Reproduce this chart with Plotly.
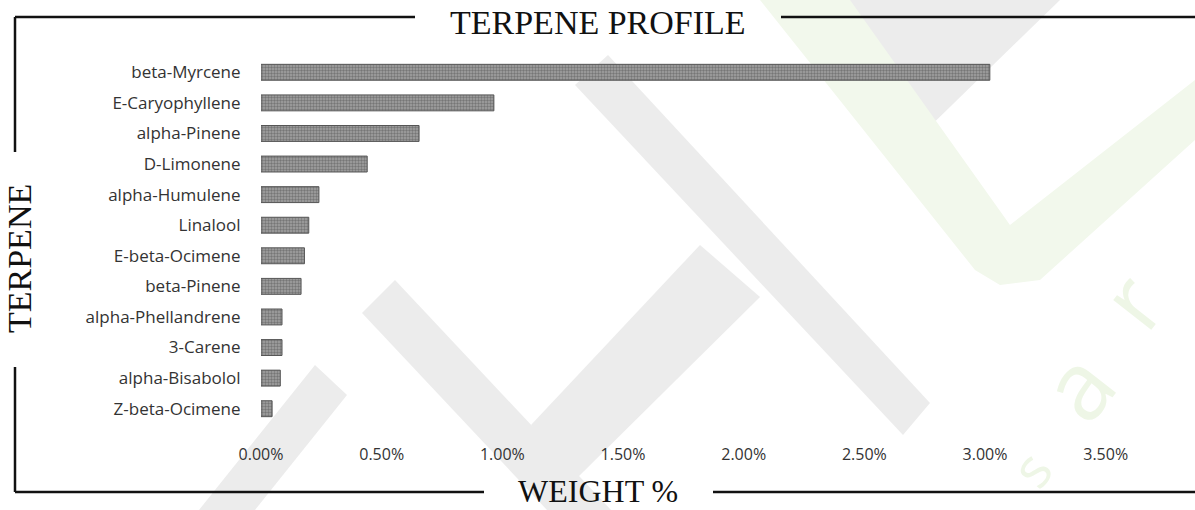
import plotly.graph_objects as go

terpenes = ["beta-Myrcene", "E-Caryophyllene", "alpha-Pinene", "D-Limonene",
            "alpha-Humulene", "Linalool", "E-beta-Ocimene", "beta-Pinene",
            "alpha-Phellandrene", "3-Carene", "alpha-Bisabolol", "Z-beta-Ocimene"]
weight_pct = [3.02, 0.965, 0.655, 0.44, 0.24, 0.198, 0.18, 0.166, 0.087, 0.087, 0.08, 0.046]
x_ticks = [0, 0.5, 1.0, 1.5, 2.0, 2.5, 3.0, 3.5]

W, H = 1195, 510
L, R, T, B = 261, 1166, 57, 424

def px(x):
    return (x - L) / (R - L)

def py(y):
    return (B - y) / (B - T)

def path(points):
    return "M " + " L ".join(f"{px(a):.5f},{py(b):.5f}" for a, b in points) + " Z"

fig = go.Figure()
fig.add_trace(go.Bar(
    x=weight_pct, y=terpenes, orientation="h",
    marker=dict(color="#7a7a7a",
                line=dict(color="#555555", width=1),
                pattern=dict(shape=".", fgcolor="#4a4a4a", bgcolor="#a2a2a2",
                             size=3, solidity=0.5)),
    width=0.52, showlegend=False,
))

shapes = []
# watermark (light gray)
gray = "#ececec"
for poly in [
    [(315, 365), (347, 395), (255, 510), (199, 510)],
    [(362, 313), (395, 280), (611, 510), (547, 510)],
    [(531, 425), (700, 245), (760, 297), (575, 480)],
    [(575, 85), (608, 55), (930, 403), (903, 435)],
    [(873, 120), (913, 143), (1060, 0), (800, 0)],
]:
    shapes.append(dict(type="path", xref="paper", yref="paper", path=path(poly),
                       fillcolor=gray, line=dict(width=0), layer="below"))
# watermark (light green)
green = "#f2f8ec"
shapes.append(dict(type="path", xref="paper", yref="paper",
                   path=path([(760, 0), (850, 0), (1010, 225), (1195, 80), (1195, 140),
                              (1040, 280), (1000, 285), (975, 270)]),
                   fillcolor=green, line=dict(width=0), layer="below"))

# frame lines
frame = [((15, 17), (415, 17)), ((781, 17), (1195, 17)),
         ((15, 17), (15, 152)), ((15, 367), (15, 492)),
         ((15, 492), (484, 492)), ((713, 492), (1195, 492))]
for (a, b), (c, d) in frame:
    shapes.append(dict(type="line", xref="paper", yref="paper",
                       x0=px(a), y0=py(b), x1=px(c), y1=py(d),
                       line=dict(color="#111111", width=2.5)))

serif = "Liberation Serif"
annotations = [
    dict(text="TERPENE PROFILE", x=px(598), y=py(22), xref="paper", yref="paper",
         showarrow=False, font=dict(family=serif, size=34, color="#111"),
         xanchor="center", yanchor="middle"),
    dict(text="WEIGHT %", x=px(598), y=py(491), xref="paper", yref="paper",
         showarrow=False, font=dict(family=serif, size=32, color="#111"),
         xanchor="center", yanchor="middle"),
    dict(text="TERPENE", x=px(19), y=py(258), xref="paper", yref="paper",
         showarrow=False, textangle=-90, font=dict(family=serif, size=34, color="#111"),
         xanchor="center", yanchor="middle"),
]
for ch, (cx, cy), sz in zip(["s", "a", "r"], [(1030, 468), (1075, 385), (1130, 300)],
                            [55, 95, 90]):
    annotations.append(dict(text=ch, x=px(cx), y=py(cy), xref="paper", yref="paper",
                            showarrow=False, textangle=-52,
                            font=dict(family="Open Sans", size=sz, color="#eef6e6"),
                            xanchor="center", yanchor="middle"))

fig.update_layout(
    width=W, height=H,
    margin=dict(l=L, r=W - R, t=T, b=H - B),
    paper_bgcolor="white", plot_bgcolor="rgba(0,0,0,0)",
    shapes=shapes, annotations=annotations,
    xaxis=dict(range=[0, 3.75], tickvals=x_ticks,
               ticktext=[f"{v:.2f}%" for v in x_ticks],
               showgrid=False, zeroline=False, showline=False,
               ticks="outside", ticklen=16, tickcolor="rgba(0,0,0,0)",
               tickfont=dict(family="Open Sans", size=16, color="#333")),
    yaxis=dict(range=[11.5, -0.5], showgrid=False, zeroline=False, showline=False,
               ticks="outside", ticklen=16, tickcolor="rgba(0,0,0,0)",
               tickfont=dict(family="Open Sans", size=17, color="#333")),
    bargap=0.45,
)

fig.write_html("out.html", config={"displayModeBar": False},
               post_script="document.body.style.margin='0px';document.body.style.overflow='hidden';")
